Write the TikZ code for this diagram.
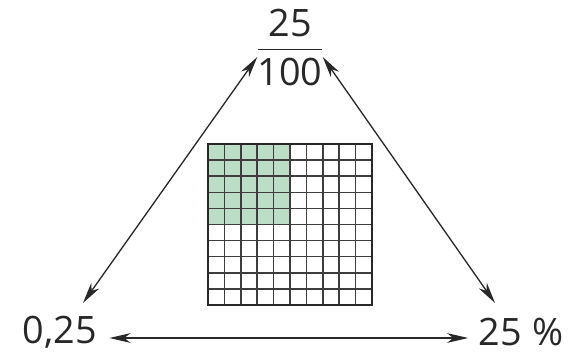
\documentclass[tikz,border=0pt]{standalone}
\usepackage{fontspec}
\setmainfont{Open Sans}
\usetikzlibrary{arrows.meta,positioning}
\definecolor{inkgray}{RGB}{40,40,40}
\definecolor{paleGreen}{RGB}{188,222,198}

\begin{document}
\begin{tikzpicture}[x=0.02cm, y=-0.02cm,
    num/.style={inner sep=0pt, anchor=base, text=inkgray,
                font=\fontsize{21.5}{26}\selectfont},
    arrow/.style={{Stealth[length=12pt,width=5.5pt,inset=3.5pt]}-{Stealth[length=12pt,width=5.5pt,inset=3.5pt]},
                  line width=0.75pt, color=inkgray},
    cell/.style={line width=0.85pt, color=inkgray!90},
    frame/.style={line width=1.6pt, color=inkgray}
]
\useasboundingbox (0,0) rectangle (582,353);

\node[num] (frac) at (290,85) {\setlength{\arrayrulewidth}{0.8pt}%
  \begin{tabular}[b]{@{}c@{}}25\\[-0.5pt]\hline\noalign{\vskip 1.5pt}100\end{tabular}};
\node[num] (dec) at (60,343) {0,25};
\node[num] (pct) at (521,345) {25\;\%};

% hundred square, 25 cells shaded
\fill[paleGreen] (208,144) rectangle (290,224.5);
\foreach \i in {1,...,9}
  \draw[cell] ({208+16.4*\i},144) -- ++(0,161);
\foreach \j in {1,...,9}
  \draw[cell] (208,{144+16.1*\j}) -- ++(164,0);
\draw[frame] (208,144) rectangle (372,305);

% links between the three forms
\draw[arrow] ([shift={(23,-40)}]dec.base) -- ([shift={(0,-28)}]frac.base west);
\draw[arrow] ([shift={(0,-28)}]frac.base east) -- ([shift={(-26,-42)}]pct.base);
\draw[arrow] ([shift={(12,-5)}]dec.base east) -- ([shift={(-10,-7)}]pct.base west);

\end{tikzpicture}
\end{document}
